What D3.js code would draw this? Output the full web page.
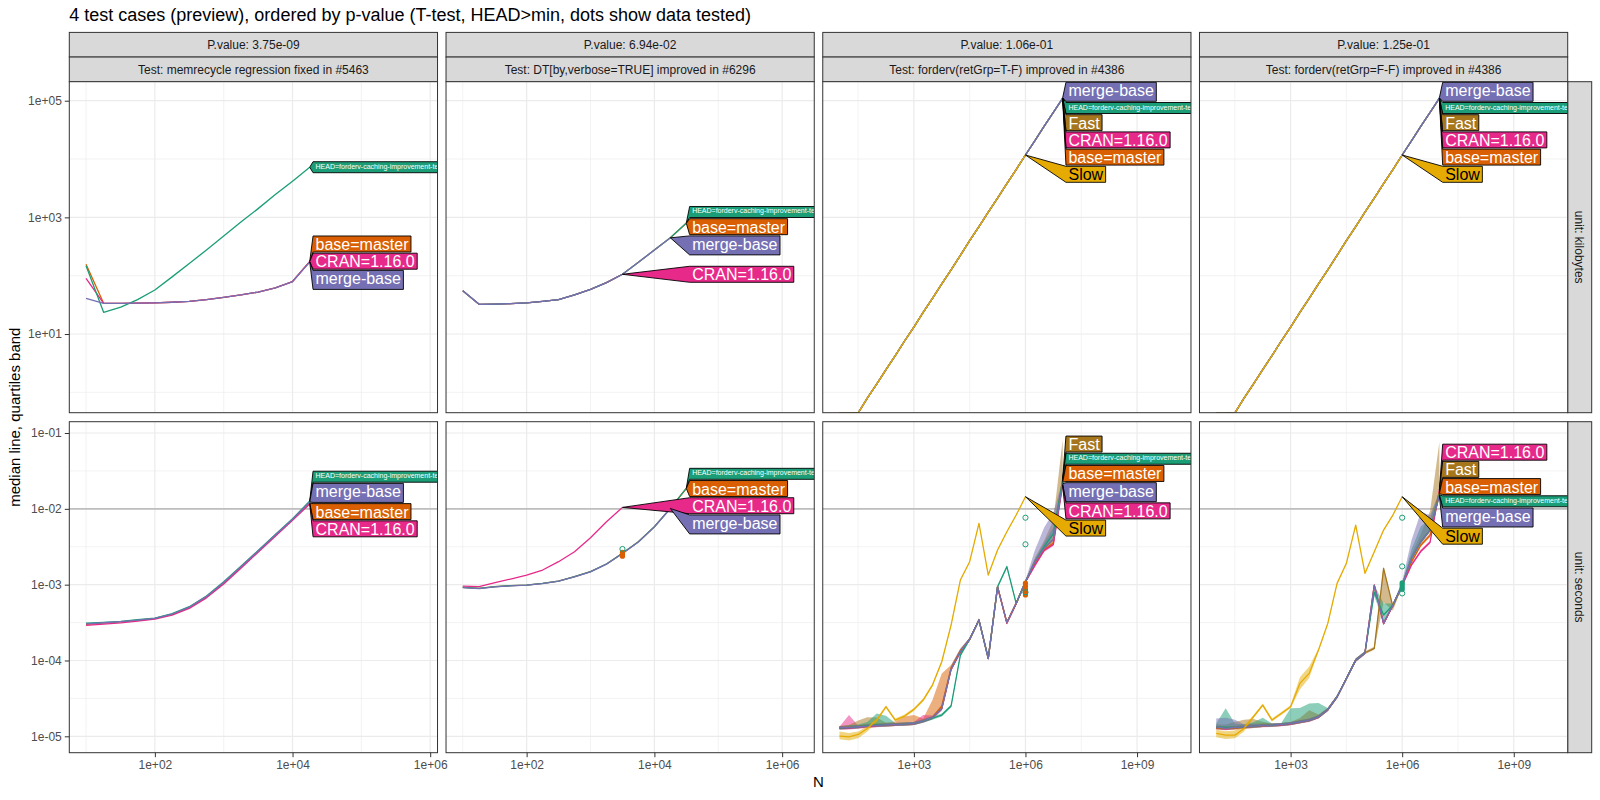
<!DOCTYPE html>
<html><head><meta charset="utf-8">
<script src="https://cdn.jsdelivr.net/npm/d3@7"></script>
<style>
body{margin:0;background:#fff}
svg{display:block}
text{font-family:"Liberation Sans",Arial,Helvetica,sans-serif}
</style>
</head><body>
<svg id="chart" width="1600" height="800"></svg>
<script>
// ------------------------------------------------------------------ data
const titleText = "4 test cases (preview), ordered by p-value (T-test, HEAD>min, dots show data tested)";
const xTitle = "N";
const yTitle = "median line, quartiles band";
const testNames = [
  "memrecycle regression fixed in #5463",
  "DT[by,verbose=TRUE] improved in #6296",
  "forderv(retGrp=T-F) improved in #4386",
  "forderv(retGrp=F-F) improved in #4386"
];
const pValues = ["3.75e-09", "6.94e-02", "1.06e-01", "1.25e-01"];
const unitNames = ["kilobytes", "seconds"];

const seriesKeys   = ["base", "cran", "fast", "head", "merge", "slow"];
const seriesLabels = ["base=master", "CRAN=1.16.0", "Fast", "HEAD=forderv-caching-improvement-tests", "merge-base", "Slow"];
const seriesColors = ["#D95F02", "#E7298A", "#A6761D", "#1B9E77", "#7570B3", "#E6AB02"];
const labelInk     = ["#FFFFFF", "#FFFFFF", "#FFFFFF", "#FFFFFF", "#FFFFFF", "#000000"];

// N grids
const nShort = [10, 18, 32, 56, 100, 178, 316, 562, 1000, 1778, 3162, 5623, 10000, 17783];
const nMid   = [10, 18, 32, 56, 100, 178, 316, 562, 1000, 1778, 3162, 5623, 10000, 17783, 31623];
const nLong  = [10, 18, 32, 56, 100, 178, 316, 562, 1000, 1778, 3162, 5623, 10000, 17783, 31623,
                56234, 100000, 177828, 316228, 562341, 1000000, 1778279, 3162278, 5623413, 10000000];

// x-axis limits per test column (before 5% expansion) and tick sets
const xLimits = [[10, 7.3e5], [10, 1.74e6], [10, 1e10], [10, 1e10]];
const xMajorTicks = [[1e2, 1e4, 1e6], [1e2, 1e4, 1e6], [1e3, 1e6, 1e9], [1e3, 1e6, 1e9]];
const xMinorTicks = [[1e1, 1e3, 1e5, 1e7], [1e1, 1e3, 1e5, 1e7],
                     [31.62, 31623, 3.162e7, 3.162e10], [31.62, 31623, 3.162e7, 3.162e10]];
// y limits per unit row (log10 of kilobytes / seconds)
const yLogLimits = [[-0.349, 5.326], [-5.216, -0.851]];
const yMajorTicks = [[1e1, 1e3, 1e5], [1e-1, 1e-2, 1e-3, 1e-4, 1e-5]];
const yMinorTicks = [[1e0, 1e2, 1e4], [0.03162, 0.003162, 0.0003162, 0.00003162]];
const secondsRefLine = 0.01;

// ---- all series values are log10 of the median (kilobytes or seconds)
// test 1: memrecycle
const t1KbHead  = [2.17, 1.372, 1.46, 1.59, 1.755, 1.98, 2.21, 2.44, 2.68, 2.92, 3.15, 3.39, 3.62, 3.86];
const t1KbBase  = [2.195, 1.527, 1.527, 1.53, 1.535, 1.545, 1.56, 1.59, 1.63, 1.67, 1.72, 1.79, 1.90, 2.245];
const t1KbCran  = [1.955, 1.527, 1.527, 1.53, 1.535, 1.545, 1.56, 1.59, 1.63, 1.67, 1.72, 1.79, 1.90, 2.240];
const t1KbMerge = [1.613, 1.527, 1.527, 1.53, 1.535, 1.545, 1.56, 1.59, 1.63, 1.67, 1.72, 1.79, 1.90, 2.235];
const t1SecHead  = [-3.509, -3.498, -3.484, -3.463, -3.441, -3.382, -3.291, -3.149, -2.963, -2.757, -2.550, -2.339, -2.131, -1.897];
const t1SecMerge = [-3.516, -3.502, -3.487, -3.469, -3.444, -3.387, -3.297, -3.155, -2.971, -2.765, -2.556, -2.345, -2.137, -1.910];
const t1SecBase  = [-3.523, -3.506, -3.491, -3.471, -3.446, -3.393, -3.303, -3.162, -2.979, -2.772, -2.564, -2.353, -2.144, -1.924];
const t1SecCran  = [-3.538, -3.520, -3.503, -3.481, -3.453, -3.403, -3.314, -3.174, -2.991, -2.783, -2.572, -2.361, -2.152, -1.936];

// test 2: DT[by,verbose=TRUE]
const t2KbHead  = [1.743, 1.509, 1.512, 1.52, 1.535, 1.56, 1.59, 1.67, 1.767, 1.88, 2.024, 2.23, 2.44, 2.651, 2.905];
const t2KbBase  = [1.743, 1.509, 1.512, 1.52, 1.535, 1.56, 1.59, 1.67, 1.767, 1.88, 2.024, 2.23, 2.44, 2.651, 2.898];
const t2KbMerge = [1.743, 1.509, 1.512, 1.52, 1.535, 1.56, 1.59, 1.67, 1.767, 1.88, 2.024, 2.23, 2.44, 2.649];
const t2KbCran  = [1.743, 1.509, 1.512, 1.52, 1.535, 1.56, 1.59, 1.67, 1.767, 1.88, 2.024];
const t2SecHead  = [-3.036, -3.049, -3.027, -3.014, -3.005, -2.983, -2.952, -2.895, -2.829, -2.728, -2.587, -2.434, -2.236, -1.994, -1.726];
const t2SecBase  = [-3.036, -3.049, -3.027, -3.014, -3.005, -2.983, -2.952, -2.895, -2.829, -2.728, -2.587, -2.434, -2.236, -1.994, -1.732];
const t2SecMerge = [-3.040, -3.052, -3.030, -3.016, -3.007, -2.985, -2.954, -2.897, -2.831, -2.730, -2.590, -2.437, -2.238, -1.996];
const t2SecCran  = [-3.018, -3.027, -2.974, -2.926, -2.873, -2.807, -2.697, -2.566, -2.381, -2.170, -1.981];
const t2DotsOpen   = [-2.530];
const t2DotsFilled = [-2.575, -2.600, -2.625];

// test 3: forderv(retGrp=T-F)
const t3KbBase  = [-0.36, -0.36, -0.35, -0.10, 0.14, 0.39, 0.63, 0.88, 1.12, 1.37, 1.61, 1.86, 2.10, 2.35, 2.60, 2.84, 3.09, 3.33, 3.58, 3.82, 4.069, 4.31, 4.56, 4.80, 5.034];
const t3KbCran  = [-0.36, -0.36, -0.35, -0.10, 0.14, 0.39, 0.63, 0.88, 1.12, 1.37, 1.61, 1.86, 2.10, 2.35, 2.60, 2.84, 3.09, 3.33, 3.58, 3.82, 4.069, 4.31, 4.56, 4.80, 5.038];
const t3KbFast  = [-0.36, -0.36, -0.35, -0.10, 0.14, 0.39, 0.63, 0.88, 1.12, 1.37, 1.61, 1.86, 2.10, 2.35, 2.60, 2.84, 3.09, 3.33, 3.58, 3.82, 4.069, 4.31, 4.56, 4.80, 5.042];
const t3KbHead  = [-0.36, -0.36, -0.35, -0.10, 0.14, 0.39, 0.63, 0.88, 1.12, 1.37, 1.61, 1.86, 2.10, 2.35, 2.60, 2.84, 3.09, 3.33, 3.58, 3.82, 4.069, 4.31, 4.56, 4.80, 5.046];
const t3KbMerge = [-0.36, -0.36, -0.35, -0.10, 0.14, 0.39, 0.63, 0.88, 1.12, 1.37, 1.61, 1.86, 2.10, 2.35, 2.60, 2.84, 3.09, 3.33, 3.58, 3.82, 4.069, 4.31, 4.56, 4.80, 5.050];
const t3KbSlow  = [-0.36, -0.36, -0.35, -0.10, 0.14, 0.39, 0.63, 0.88, 1.12, 1.37, 1.61, 1.86, 2.10, 2.35, 2.60, 2.84, 3.09, 3.33, 3.58, 3.82, 4.069];
const t3SecBase  = [-4.883, -4.880, -4.874, -4.865, -4.856, -4.850, -4.843, -4.838, -4.830, -4.795, -4.751, -4.600, -4.100, -3.870, -3.720, -3.467, -3.973, -3.027, -3.500, -3.247, -2.961, -2.720, -2.540, -2.450, -1.650];
const t3SecCran  = [-4.895, -4.890, -4.880, -4.870, -4.860, -4.852, -4.845, -4.840, -4.832, -4.800, -4.755, -4.640, -4.120, -3.890, -3.720, -3.467, -3.975, -3.030, -3.510, -3.250, -2.965, -2.750, -2.550, -2.470, -1.690];
const t3SecFast  = [-4.885, -4.880, -4.870, -4.860, -4.853, -4.850, -4.843, -4.838, -4.830, -4.795, -4.751, -4.630, -4.110, -3.880, -3.720, -3.467, -3.973, -3.027, -3.500, -3.247, -2.961, -2.700, -2.520, -2.400, -1.600];
const t3SecHead  = [-4.890, -4.885, -4.874, -4.860, -4.850, -4.848, -4.843, -4.838, -4.830, -4.800, -4.760, -4.720, -4.601, -3.930, -3.720, -3.467, -3.973, -3.027, -2.763, -3.247, -2.961, -2.700, -2.500, -2.330, -1.630];
const t3SecMerge = [-4.883, -4.883, -4.874, -4.865, -4.856, -4.850, -4.843, -4.838, -4.830, -4.795, -4.751, -4.632, -4.115, -3.880, -3.720, -3.467, -3.973, -3.027, -3.500, -3.247, -2.961, -2.700, -2.520, -2.400, -1.670];
const t3SecSlow  = [-4.997, -5.006, -4.975, -4.896, -4.786, -4.610, -4.786, -4.733, -4.645, -4.522, -4.324, -4.017, -3.533, -2.939, -2.697, -2.192, -2.873, -2.543, -2.302, -2.082, -1.840];
// quartile spread, log10 decades above (Up) and below (Dn) the median
const t3BaseUp  = [0.02, 0.02, 0.02, 0.03, 0.03, 0.03, 0.04, 0.10, 0.11, 0.03, 0.23, 0.43, 0.04, 0.02, 0.02, 0.02, 0.02, 0.02, 0.02, 0.02, 0.02, 0.03, 0.03, 0.03, 0.05];
const t3BaseDn  = [0.02, 0.02, 0.02, 0.02, 0.02, 0.02, 0.02, 0.02, 0.02, 0.02, 0.02, 0.02, 0.02, 0.02, 0.02, 0.02, 0.02, 0.02, 0.02, 0.02, 0.02, 0.02, 0.02, 0.02, 0.03];
const t3CranUp  = [0.02, 0.17, 0.02, 0.02, 0.02, 0.02, 0.02, 0.02, 0.02, 0.08, 0.03, 0.03, 0.02, 0.02, 0.02, 0.02, 0.02, 0.02, 0.02, 0.02, 0.02, 0.02, 0.02, 0.02, 0.04];
const t3CranDn  = [0.02, 0.02, 0.02, 0.02, 0.02, 0.02, 0.02, 0.02, 0.02, 0.02, 0.02, 0.02, 0.02, 0.02, 0.02, 0.02, 0.02, 0.02, 0.02, 0.02, 0.02, 0.02, 0.02, 0.02, 0.02];
const t3FastUp  = [0.02, 0.03, 0.08, 0.11, 0.10, 0.03, 0.02, 0.02, 0.02, 0.02, 0.02, 0.02, 0.02, 0.02, 0.02, 0.02, 0.02, 0.02, 0.02, 0.02, 0.02, 0.05, 0.10, 0.25, 0.51];
const t3FastDn  = [0.02, 0.02, 0.02, 0.02, 0.02, 0.02, 0.02, 0.02, 0.02, 0.02, 0.02, 0.02, 0.02, 0.02, 0.02, 0.02, 0.02, 0.02, 0.02, 0.02, 0.02, 0.02, 0.02, 0.02, 0.02];
const t3HeadUp  = [0.02, 0.03, 0.03, 0.05, 0.15, 0.12, 0.02, 0.02, 0.02, 0.02, 0.02, 0.02, 0.02, 0.03, 0.02, 0.02, 0.02, 0.02, 0.02, 0.02, 0.02, 0.03, 0.05, 0.08, 0.05];
const t3HeadDn  = [0.02, 0.02, 0.02, 0.02, 0.02, 0.02, 0.02, 0.02, 0.02, 0.02, 0.02, 0.02, 0.02, 0.02, 0.02, 0.02, 0.02, 0.02, 0.02, 0.02, 0.02, 0.02, 0.02, 0.02, 0.02];
const t3MergeUp = [0.02, 0.02, 0.02, 0.02, 0.02, 0.02, 0.02, 0.02, 0.02, 0.02, 0.02, 0.03, 0.05, 0.04, 0.02, 0.02, 0.02, 0.02, 0.02, 0.02, 0.02, 0.15, 0.27, 0.35, 0.05];
const t3MergeDn = [0.02, 0.02, 0.02, 0.02, 0.02, 0.02, 0.02, 0.02, 0.02, 0.02, 0.02, 0.02, 0.02, 0.02, 0.02, 0.02, 0.02, 0.02, 0.02, 0.02, 0.02, 0.02, 0.02, 0.02, 0.02];
const t3SlowUp  = [0.06, 0.05, 0.04, 0.03, 0.02, 0.02, 0.02, 0.02, 0.02, 0.02, 0.02, 0.02, 0.02, 0.01, 0.01, 0.01, 0.01, 0.01, 0.01, 0.01, 0.01];
const t3SlowDn  = [0.04, 0.05, 0.05, 0.04, 0.03, 0.02, 0.02, 0.02, 0.02, 0.02, 0.02, 0.02, 0.02, 0.01, 0.01, 0.01, 0.01, 0.01, 0.01, 0.01, 0.01];
const t3DotsOpen   = [-2.117, -2.468, -3.100];
const t3DotsFilled = [-2.980, -3.020, -3.060, -3.100, -3.135];

// test 4: forderv(retGrp=F-F)
const t4KbBase  = [-0.36, -0.36, -0.35, -0.10, 0.14, 0.39, 0.63, 0.88, 1.12, 1.37, 1.61, 1.86, 2.10, 2.35, 2.60, 2.84, 3.09, 3.33, 3.58, 3.82, 4.069, 4.31, 4.56, 4.80, 5.034];
const t4KbCran  = [-0.36, -0.36, -0.35, -0.10, 0.14, 0.39, 0.63, 0.88, 1.12, 1.37, 1.61, 1.86, 2.10, 2.35, 2.60, 2.84, 3.09, 3.33, 3.58, 3.82, 4.069, 4.31, 4.56, 4.80, 5.038];
const t4KbFast  = [-0.36, -0.36, -0.35, -0.10, 0.14, 0.39, 0.63, 0.88, 1.12, 1.37, 1.61, 1.86, 2.10, 2.35, 2.60, 2.84, 3.09, 3.33, 3.58, 3.82, 4.069, 4.31, 4.56, 4.80, 5.042];
const t4KbHead  = [-0.36, -0.36, -0.35, -0.10, 0.14, 0.39, 0.63, 0.88, 1.12, 1.37, 1.61, 1.86, 2.10, 2.35, 2.60, 2.84, 3.09, 3.33, 3.58, 3.82, 4.069, 4.31, 4.56, 4.80, 5.046];
const t4KbMerge = [-0.36, -0.36, -0.35, -0.10, 0.14, 0.39, 0.63, 0.88, 1.12, 1.37, 1.61, 1.86, 2.10, 2.35, 2.60, 2.84, 3.09, 3.33, 3.58, 3.82, 4.069, 4.31, 4.56, 4.80, 5.050];
const t4KbSlow  = [-0.36, -0.36, -0.35, -0.10, 0.14, 0.39, 0.63, 0.88, 1.12, 1.37, 1.61, 1.86, 2.10, 2.35, 2.60, 2.84, 3.09, 3.33, 3.58, 3.82, 4.069];
const t4SecBase  = [-4.880, -4.890, -4.883, -4.874, -4.865, -4.856, -4.852, -4.843, -4.830, -4.808, -4.786, -4.742, -4.645, -4.478, -4.237, -3.995, -3.898, -3.005, -3.511, -3.269, -3.005, -2.700, -2.480, -2.350, -1.800];
const t4SecCran  = [-4.890, -4.900, -4.890, -4.880, -4.870, -4.860, -4.856, -4.848, -4.835, -4.812, -4.790, -4.746, -4.650, -4.480, -4.240, -3.998, -3.900, -3.010, -3.515, -3.275, -3.010, -2.740, -2.560, -2.440, -1.750];
const t4SecFast  = [-4.890, -4.895, -4.890, -4.880, -4.870, -4.858, -4.852, -4.843, -4.830, -4.808, -4.786, -4.742, -4.645, -4.478, -4.237, -3.995, -3.898, -3.840, -2.785, -3.290, -3.005, -2.653, -2.434, -2.280, -1.780];
const t4SecHead  = [-4.880, -4.880, -4.883, -4.874, -4.865, -4.856, -4.852, -4.843, -4.830, -4.808, -4.786, -4.742, -4.645, -4.478, -4.237, -3.995, -3.898, -3.100, -3.400, -3.269, -3.005, -2.653, -2.434, -2.280, -1.815];
const t4SecMerge = [-4.874, -4.896, -4.883, -4.874, -4.865, -4.856, -4.852, -4.843, -4.830, -4.808, -4.786, -4.742, -4.645, -4.478, -4.237, -3.995, -3.898, -3.005, -3.511, -3.269, -3.005, -2.653, -2.434, -2.280, -1.830];
const t4SecSlow  = [-4.962, -4.984, -4.984, -4.896, -4.742, -4.588, -4.786, -4.698, -4.610, -4.302, -4.170, -3.863, -3.511, -2.983, -2.719, -2.214, -2.851, -2.565, -2.280, -2.082, -1.840];
const t4BaseUp  = [0.02, 0.02, 0.02, 0.03, 0.03, 0.03, 0.02, 0.02, 0.02, 0.05, 0.13, 0.03, 0.02, 0.02, 0.02, 0.02, 0.02, 0.02, 0.02, 0.02, 0.02, 0.03, 0.03, 0.03, 0.04];
const t4BaseDn  = [0.02, 0.02, 0.02, 0.02, 0.02, 0.02, 0.02, 0.02, 0.02, 0.02, 0.02, 0.02, 0.02, 0.02, 0.02, 0.02, 0.02, 0.02, 0.02, 0.02, 0.02, 0.02, 0.02, 0.02, 0.02];
const t4CranUp  = [0.02, 0.02, 0.02, 0.02, 0.02, 0.02, 0.02, 0.02, 0.02, 0.02, 0.02, 0.02, 0.02, 0.02, 0.02, 0.02, 0.02, 0.02, 0.02, 0.02, 0.02, 0.02, 0.02, 0.02, 0.04];
const t4CranDn  = [0.02, 0.02, 0.02, 0.02, 0.02, 0.02, 0.02, 0.02, 0.02, 0.02, 0.02, 0.02, 0.02, 0.02, 0.02, 0.02, 0.02, 0.02, 0.02, 0.02, 0.02, 0.02, 0.02, 0.02, 0.02];
const t4FastUp  = [0.05, 0.05, 0.08, 0.10, 0.10, 0.05, 0.02, 0.02, 0.02, 0.02, 0.02, 0.02, 0.02, 0.02, 0.02, 0.02, 0.02, 0.02, 0.02, 0.02, 0.02, 0.05, 0.10, 0.25, 0.66];
const t4FastDn  = [0.02, 0.02, 0.02, 0.02, 0.02, 0.02, 0.02, 0.02, 0.02, 0.02, 0.02, 0.02, 0.02, 0.02, 0.02, 0.02, 0.02, 0.02, 0.45, 0.05, 0.02, 0.02, 0.02, 0.02, 0.02];
const t4HeadUp  = [0.05, 0.25, 0.05, 0.03, 0.05, 0.10, 0.02, 0.02, 0.20, 0.18, 0.22, 0.18, 0.02, 0.02, 0.02, 0.02, 0.02, 0.10, 0.15, 0.02, 0.02, 0.12, 0.20, 0.15, 0.05];
const t4HeadDn  = [0.02, 0.02, 0.02, 0.02, 0.02, 0.02, 0.02, 0.02, 0.02, 0.02, 0.02, 0.02, 0.02, 0.02, 0.02, 0.02, 0.02, 0.05, 0.10, 0.02, 0.02, 0.02, 0.02, 0.02, 0.02];
const t4MergeUp = [0.11, 0.14, 0.10, 0.03, 0.03, 0.02, 0.02, 0.02, 0.02, 0.02, 0.02, 0.02, 0.02, 0.02, 0.02, 0.02, 0.02, 0.02, 0.02, 0.02, 0.05, 0.24, 0.39, 0.20, 0.05];
const t4MergeDn = [0.02, 0.02, 0.02, 0.02, 0.02, 0.02, 0.02, 0.02, 0.02, 0.02, 0.02, 0.02, 0.02, 0.02, 0.02, 0.02, 0.02, 0.02, 0.02, 0.02, 0.02, 0.02, 0.02, 0.02, 0.02];
const t4SlowUp  = [0.05, 0.05, 0.06, 0.04, 0.02, 0.02, 0.02, 0.02, 0.02, 0.08, 0.09, 0.02, 0.02, 0.01, 0.01, 0.01, 0.01, 0.01, 0.01, 0.01, 0.01];
const t4SlowDn  = [0.05, 0.05, 0.04, 0.04, 0.02, 0.02, 0.02, 0.02, 0.02, 0.08, 0.06, 0.02, 0.02, 0.01, 0.01, 0.01, 0.01, 0.01, 0.01, 0.01, 0.01];
const t4DotsOpen   = [-2.117, -2.759, -3.115];
const t4DotsFilled = [-2.975, -3.000, -3.030, -3.060];

// ------------------------------------------------------------------ table built from the arrays
const tests = [
  { n: nShort,
    kb:  {base: t1KbBase, cran: t1KbCran, head: t1KbHead, merge: t1KbMerge},
    sec: {base: t1SecBase, cran: t1SecCran, head: t1SecHead, merge: t1SecMerge},
    up: null, dn: null, dots: null },
  { n: nMid,
    kb:  {base: t2KbBase, cran: t2KbCran, head: t2KbHead, merge: t2KbMerge},
    sec: {base: t2SecBase, cran: t2SecCran, head: t2SecHead, merge: t2SecMerge},
    up: null, dn: null,
    dots: {n: 3162, open: t2DotsOpen, openKey: "head", filled: t2DotsFilled, filledKey: "base"} },
  { n: nLong,
    kb:  {base: t3KbBase, cran: t3KbCran, fast: t3KbFast, head: t3KbHead, merge: t3KbMerge, slow: t3KbSlow},
    sec: {base: t3SecBase, cran: t3SecCran, fast: t3SecFast, head: t3SecHead, merge: t3SecMerge, slow: t3SecSlow},
    up: {base: t3BaseUp, cran: t3CranUp, fast: t3FastUp, head: t3HeadUp, merge: t3MergeUp, slow: t3SlowUp},
    dn: {base: t3BaseDn, cran: t3CranDn, fast: t3FastDn, head: t3HeadDn, merge: t3MergeDn, slow: t3SlowDn},
    dots: {n: 1e6, open: t3DotsOpen, openKey: "head", filled: t3DotsFilled, filledKey: "base"} },
  { n: nLong,
    kb:  {base: t4KbBase, cran: t4KbCran, fast: t4KbFast, head: t4KbHead, merge: t4KbMerge, slow: t4KbSlow},
    sec: {base: t4SecBase, cran: t4SecCran, fast: t4SecFast, head: t4SecHead, merge: t4SecMerge, slow: t4SecSlow},
    up: {base: t4BaseUp, cran: t4CranUp, fast: t4FastUp, head: t4HeadUp, merge: t4MergeUp, slow: t4SlowUp},
    dn: {base: t4BaseDn, cran: t4CranDn, fast: t4FastDn, head: t4HeadDn, merge: t4MergeDn, slow: t4SlowDn},
    dots: {n: 1e6, open: t4DotsOpen, openKey: "head", filled: t4DotsFilled, filledKey: "head"} }
];

// ------------------------------------------------------------------ layout / style
const FONT = '"Liberation Sans", Arial, sans-serif';
const panelLeft = 69.3, panelRight = 1567.7, panelGap = 8.5;
const pw = (panelRight - panelLeft - 3 * panelGap) / 4;
const rowTops = [81.7, 421.7], rowH = 331;
const stripTop = 32.4, stripH = 24.65, sideStripW = 24;
const gridCol = "#EBEBEB", borderCol = "#333333", stripFill = "#D9D9D9";
const lineW = 1.3;
const labelGap = 1.2;

const svg = d3.select("#chart");
svg.append("rect").attr("width", 1600).attr("height", 800).attr("fill", "#fff");

const fmtExp = v => { const e = Math.round(Math.log10(v)); return "1e" + (e < 0 ? "-" : "+") + String(Math.abs(e)).padStart(2, "0"); };

const measureCtx = document.createElement("canvas").getContext("2d");
function measure(text, size) {
  measureCtx.font = `${size}px ${FONT}`;
  const m = measureCtx.measureText(text);
  return {w: m.width, asc: m.actualBoundingBoxAscent, desc: m.actualBoundingBoxDescent};
}

// title
svg.append("text").attr("x", panelLeft).attr("y", 21)
  .attr("font-size", 18).attr("fill", "#000").text(titleText);

// axis titles
svg.append("text").attr("x", (panelLeft + panelRight) / 2).attr("y", 787)
  .attr("text-anchor", "middle").attr("font-size", 15).attr("fill", "#000").text(xTitle);
svg.append("text").attr("transform", `translate(20,${(rowTops[0] + rowTops[1] + rowH) / 2}) rotate(-90)`)
  .attr("text-anchor", "middle").attr("font-size", 15).attr("fill", "#000").text(yTitle);

// right strips
unitNames.forEach((u, ri) => {
  const g = svg.append("g");
  g.append("rect").attr("x", panelRight).attr("y", rowTops[ri]).attr("width", sideStripW).attr("height", rowH)
    .attr("fill", stripFill).attr("stroke", borderCol).attr("stroke-width", 1);
  g.append("text").attr("transform", `translate(${panelRight + sideStripW / 2},${rowTops[ri] + rowH / 2}) rotate(90)`)
    .attr("text-anchor", "middle").attr("dy", "0.35em").attr("font-size", 12).attr("fill", "#1A1A1A")
    .text("unit: " + u);
});

let clipId = 0;

function stackLabels(items, lo, hi) {
  let clusters = items.map(it => ({items: [it]}));
  const fit = c => {
    let cum = 0, s = 0;
    c.items.forEach(it => { s += it.t - cum - it.h / 2; cum += it.h; });
    c.H = cum;
    c.top = Math.max(lo, Math.min(hi - c.H, s / c.items.length));
  };
  clusters.forEach(fit);
  let changed = true;
  while (changed) {
    changed = false;
    for (let i = 0; i < clusters.length - 1; i++) {
      const a = clusters[i], b = clusters[i + 1];
      if (a.top + a.H > b.top + 1e-6) {
        a.items = a.items.concat(b.items); clusters.splice(i + 1, 1); fit(a); changed = true; break;
      }
    }
  }
  clusters.forEach(c => { let y = c.top; c.items.forEach(it => { it.top = y; y += it.h; }); });
}

tests.forEach((t, ci) => {
  const x0 = panelLeft + ci * (pw + panelGap);
  const la = Math.log10(xLimits[ci][0]), lb = Math.log10(xLimits[ci][1]), ex = 0.05 * (lb - la);
  const x = d3.scaleLog().domain([10 ** (la - ex), 10 ** (lb + ex)]).range([x0, x0 + pw]);
  const [xd0, xd1] = x.domain();

  // column strips
  [["P.value: " + pValues[ci], stripTop], ["Test: " + testNames[ci], stripTop + stripH]].forEach(([txt, sy]) => {
    svg.append("rect").attr("x", x0).attr("y", sy).attr("width", pw).attr("height", stripH)
      .attr("fill", stripFill).attr("stroke", borderCol).attr("stroke-width", 1);
    svg.append("text").attr("x", x0 + pw / 2).attr("y", sy + stripH / 2).attr("dy", "0.35em")
      .attr("text-anchor", "middle").attr("font-size", 12).attr("fill", "#1A1A1A").text(txt);
  });

  unitNames.forEach((u, ri) => {
    const y0 = rowTops[ri];
    const y = d3.scaleLog().domain([10 ** yLogLimits[ri][0], 10 ** yLogLimits[ri][1]]).range([y0 + rowH, y0]);
    const [yd0, yd1] = y.domain();
    const vals = ri === 0 ? t.kb : t.sec;
    const g = svg.append("g");
    const cid = "clip" + (clipId++);
    g.append("clipPath").attr("id", cid).append("rect").attr("x", x0).attr("y", y0).attr("width", pw).attr("height", rowH);
    g.append("rect").attr("x", x0).attr("y", y0).attr("width", pw).attr("height", rowH).attr("fill", "#fff");

    // grid
    const grid = g.append("g");
    yMinorTicks[ri].filter(v => v > yd0 && v < yd1).forEach(v =>
      grid.append("line").attr("x1", x0).attr("x2", x0 + pw).attr("y1", y(v)).attr("y2", y(v)).attr("stroke", gridCol).attr("stroke-width", 0.6));
    xMinorTicks[ci].filter(v => v > xd0 && v < xd1).forEach(v =>
      grid.append("line").attr("y1", y0).attr("y2", y0 + rowH).attr("x1", x(v)).attr("x2", x(v)).attr("stroke", gridCol).attr("stroke-width", 0.6));
    yMajorTicks[ri].filter(v => v > yd0 && v < yd1).forEach(v =>
      grid.append("line").attr("x1", x0).attr("x2", x0 + pw).attr("y1", y(v)).attr("y2", y(v)).attr("stroke", gridCol).attr("stroke-width", 1.2));
    xMajorTicks[ci].filter(v => v > xd0 && v < xd1).forEach(v =>
      grid.append("line").attr("y1", y0).attr("y2", y0 + rowH).attr("x1", x(v)).attr("x2", x(v)).attr("stroke", gridCol).attr("stroke-width", 1.2));

    if (ri === 1) {
      g.append("line").attr("x1", x0).attr("x2", x0 + pw).attr("y1", y(secondsRefLine)).attr("y2", y(secondsRefLine))
        .attr("stroke", "#BEBEBE").attr("stroke-width", 1.6);
    }

    const data = g.append("g").attr("clip-path", `url(#${cid})`);
    const present = seriesKeys.map((k, si) => ({k, si})).filter(d => vals[d.k]);

    // ribbons (quartile bands)
    if (ri === 1 && t.up) {
      present.forEach(({k, si}) => {
        const med = vals[k], up = t.up[k], dn = t.dn[k];
        const pts = med.map((m, i) => ({n: t.n[i], lo: 10 ** (m - dn[i]), hi: 10 ** (m + up[i])}));
        data.append("path").datum(pts)
          .attr("d", d3.area().x(d => x(d.n)).y0(d => y(d.lo)).y1(d => y(d.hi)))
          .attr("fill", seriesColors[si]).attr("fill-opacity", 0.5);
      });
    }
    // median lines
    present.forEach(({k, si}) => {
      const pts = vals[k].map((m, i) => ({n: t.n[i], v: 10 ** m}));
      data.append("path").datum(pts)
        .attr("d", d3.line().x(d => x(d.n)).y(d => y(d.v)))
        .attr("fill", "none").attr("stroke", seriesColors[si]).attr("stroke-width", lineW)
        .attr("stroke-linejoin", "round");
    });
    // tested data dots
    if (ri === 1 && t.dots) {
      const D = t.dots;
      D.filled.forEach(v => data.append("circle").attr("cx", x(D.n)).attr("cy", y(10 ** v)).attr("r", 2.6)
        .attr("fill", seriesColors[seriesKeys.indexOf(D.filledKey)]));
      D.open.forEach(v => data.append("circle").attr("cx", x(D.n)).attr("cy", y(10 ** v)).attr("r", 2.6)
        .attr("fill", "none").attr("stroke", seriesColors[seriesKeys.indexOf(D.openKey)]).attr("stroke-width", 1));
    }

    // direct labels: boxes stacked to avoid overlap, pointer to each line end
    const items = present.map(({k, si}) => {
      const arr = vals[k], last = arr.length - 1;
      const size = k === "head" ? 7 : 16;
      const m = measure(seriesLabels[si], size);
      const padY = 2, padX = 2.5;
      const boxH = m.asc + m.desc + 2 * padY;
      return {k, si, size, m, padX, padY, boxH,
        ax: x(t.n[last]), ay: y(10 ** arr[last]), val: arr[last],
        h: boxH + labelGap, w: m.w + 2 * padX};
    });
    const labelX = d3.max(items, d => d.ax) + 3.3;
    items.forEach(d => d.t = d.ay);
    items.sort((a, b) => a.t - b.t || b.val - a.val);
    stackLabels(items, y0, y0 + rowH);
    const lg = g.append("g").attr("clip-path", `url(#${cid})`);
    items.forEach(d => {
      const top = d.top + labelGap / 2, bot = top + d.boxH;
      const pts = [[d.ax, d.ay], [labelX, top], [labelX + d.w, top], [labelX + d.w, bot], [labelX, bot]];
      lg.append("path").attr("d", "M" + pts.map(p => p.join(",")).join("L") + "Z")
        .attr("fill", seriesColors[d.si]).attr("stroke", "#000").attr("stroke-width", 0.9).attr("stroke-linejoin", "miter");
      lg.append("text").attr("x", labelX + d.padX).attr("y", top + d.padY + d.m.asc)
        .attr("font-size", d.size).attr("fill", labelInk[d.si]).text(seriesLabels[d.si]);
    });

    // panel border
    g.append("rect").attr("x", x0).attr("y", y0).attr("width", pw).attr("height", rowH)
      .attr("fill", "none").attr("stroke", borderCol).attr("stroke-width", 1);

    // axes
    if (ci === 0) {
      const ax = svg.append("g").attr("transform", `translate(${x0},0)`)
        .call(d3.axisLeft(y).tickValues(yMajorTicks[ri]).tickFormat(fmtExp).tickSize(4.5).tickPadding(3));
      ax.select(".domain").remove();
      ax.selectAll("line").attr("stroke", borderCol);
      ax.selectAll("text").attr("font-size", 12).attr("fill", "#4D4D4D").attr("font-family", FONT);
    }
    if (ri === 1) {
      const ax = svg.append("g").attr("transform", `translate(0,${y0 + rowH})`)
        .call(d3.axisBottom(x).tickValues(xMajorTicks[ci].filter(v => v > xd0 && v < xd1)).tickFormat(fmtExp).tickSize(4.5).tickPadding(3));
      ax.select(".domain").remove();
      ax.selectAll("line").attr("stroke", borderCol);
      ax.selectAll("text").attr("font-size", 12).attr("fill", "#4D4D4D").attr("font-family", FONT);
    }
  });
});
</script>
</body></html>
